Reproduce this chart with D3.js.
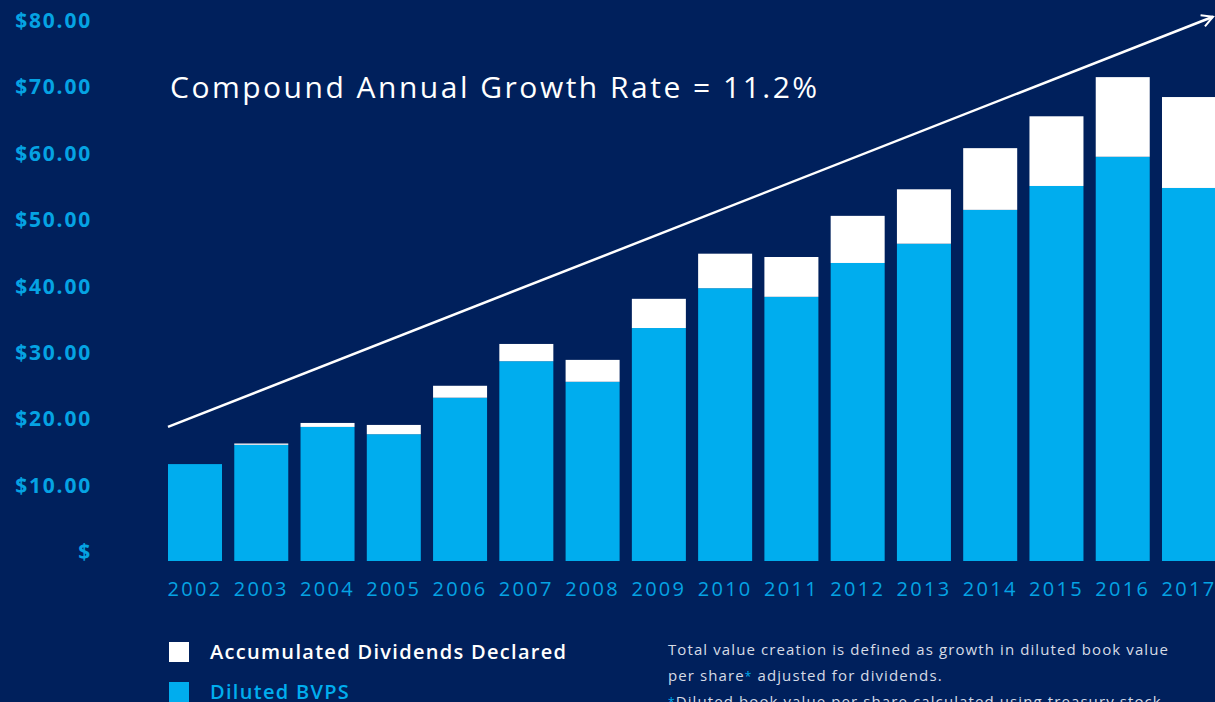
<!DOCTYPE html>
<html>
<head>
<meta charset="utf-8">
<script src="https://cdn.jsdelivr.net/npm/d3@7"></script>
<style>
  html, body { margin: 0; padding: 0; background: #00205c; overflow: hidden; }
  svg { display: block; font-family: "Open Sans", Lato, sans-serif; }
</style>
</head>
<body>
<div id="chart-area"></div>
<script>
let width = 1215;
let height = 702;

// values
let years = ["2002", "2003", "2004", "2005", "2006", "2007", "2008", "2009",
             "2010", "2011", "2012", "2013", "2014", "2015", "2016", "2017"];
let bvps = [14.6, 17.5, 20.2, 19.1, 24.6, 30.1, 27.0, 35.1,
            41.1, 39.8, 44.9, 47.8, 52.9, 56.5, 60.9, 56.2];
let dividends = [0, 0.2, 0.6, 1.4, 1.8, 2.6, 3.3, 4.4,
                 5.2, 6.0, 7.1, 8.2, 9.3, 10.5, 12.0, 13.7];
let yTicks = [0, 10, 20, 30, 40, 50, 60, 70, 80];
let arrowValues = [20.2, 82.0];

let navy = "#00205c";
let blue = "#00adee";
let labelBlue = "#05a3e3";

let svg = d3.select("#chart-area").append("svg")
    .attr("width", width)
    .attr("height", height);

svg.append("rect")
    .attr("width", width)
    .attr("height", height)
    .attr("fill", navy);

let x = d3.scaleBand()
    .domain(years)
    .range([168, 1216])
    .paddingInner(0.185)
    .paddingOuter(0);

let y = d3.scaleLinear()
    .domain([0, 80])
    .range([561, 30]);

// y labels (no axis line)
svg.selectAll(".y-label")
    .data(yTicks)
    .enter().append("text")
    .attr("class", "y-label")
    .attr("x", 92)
    .attr("y", d => y(d) - 2)
    .attr("text-anchor", "end")
    .attr("fill", labelBlue)
    .style("font-size", "21px")
    .style("font-weight", "bold")
    .style("letter-spacing", "1.8px")
    .text(d => d === 0 ? "$" : "$" + d3.format(".2f")(d));

// stacked bars
let bars = svg.selectAll(".bar")
    .data(years)
    .enter().append("g")
    .attr("class", "bar");

bars.append("rect")
    .attr("x", d => x(d))
    .attr("width", x.bandwidth())
    .attr("y", (d, i) => y(bvps[i]))
    .attr("height", (d, i) => y(0) - y(bvps[i]))
    .attr("fill", blue);

bars.append("rect")
    .attr("x", d => x(d))
    .attr("width", x.bandwidth())
    .attr("y", (d, i) => y(bvps[i] + dividends[i]))
    .attr("height", (d, i) => y(bvps[i]) - y(bvps[i] + dividends[i]))
    .attr("fill", "#ffffff");

// x labels
let xAxis = d3.axisBottom(x).tickSize(0).tickPadding(0);
let xAxisGroup = svg.append("g")
    .attr("class", "x-axis")
    .attr("transform", "translate(0," + 596 + ")")
    .call(xAxis);
xAxisGroup.select(".domain").remove();
xAxisGroup.selectAll("text")
    .attr("dy", 0)
    .attr("fill", labelBlue)
    .style("font-size", "20px")
    .style("letter-spacing", "2.3px")
    .style("font-family", "'Open Sans', sans-serif");

// growth arrow
svg.append("defs").append("marker")
    .attr("id", "arrowhead")
    .attr("viewBox", "0 0 14 14")
    .attr("refX", 12)
    .attr("refY", 7)
    .attr("markerWidth", 14)
    .attr("markerHeight", 14)
    .attr("markerUnits", "userSpaceOnUse")
    .attr("orient", "auto")
    .append("path")
    .attr("d", "M1,1 L12,7 L1,13")
    .attr("fill", "none")
    .attr("stroke", "#ffffff")
    .attr("stroke-width", 2);

svg.append("line")
    .attr("x1", x("2002"))
    .attr("y1", y(arrowValues[0]))
    .attr("x2", 1213)
    .attr("y2", y(arrowValues[1]))
    .attr("stroke", "#ffffff")
    .attr("stroke-width", 2.5)
    .attr("marker-end", "url(#arrowhead)");

svg.append("text")
    .attr("x", 170)
    .attr("y", 98)
    .attr("fill", "#ffffff")
    .style("font-size", "30px")
    .style("letter-spacing", "2.5px")
    .text("Compound Annual Growth Rate = 11.2%");

// legend
let legendItems = [
    {label: "Accumulated Dividends Declared", fill: "#ffffff", text: "#ffffff"},
    {label: "Diluted BVPS", fill: blue, text: blue}
];
let legend = svg.selectAll(".legend")
    .data(legendItems)
    .enter().append("g")
    .attr("class", "legend")
    .attr("transform", (d, i) => "translate(169," + (642 + i * 40) + ")");

legend.append("rect")
    .attr("width", 20)
    .attr("height", 20)
    .attr("fill", d => d.fill);

legend.append("text")
    .attr("x", 41)
    .attr("y", 17)
    .attr("fill", d => d.text)
    .style("font-size", "20px")
    .style("font-weight", "600")
    .style("letter-spacing", "1.3px")
    .text(d => d.label);

// footnote
let note = svg.append("g")
    .attr("fill", "#d6dbe6")
    .style("font-size", "15px")
    .style("letter-spacing", "1.1px");

note.append("text")
    .attr("x", 668)
    .attr("y", 655)
    .text("Total value creation is defined as growth in diluted book value");

let l2 = note.append("text")
    .attr("x", 668)
    .attr("y", 681);
l2.append("tspan").text("per share");
l2.append("tspan").attr("fill", blue).style("font-size", "12px").text("*");
l2.append("tspan").text(" adjusted for dividends.");

let l3 = note.append("text")
    .attr("x", 668)
    .attr("y", 707);
l3.append("tspan").attr("fill", blue).style("font-size", "12px").text("*");
l3.append("tspan").text("Diluted book value per share calculated using treasury stock");
</script>
</body>
</html>
